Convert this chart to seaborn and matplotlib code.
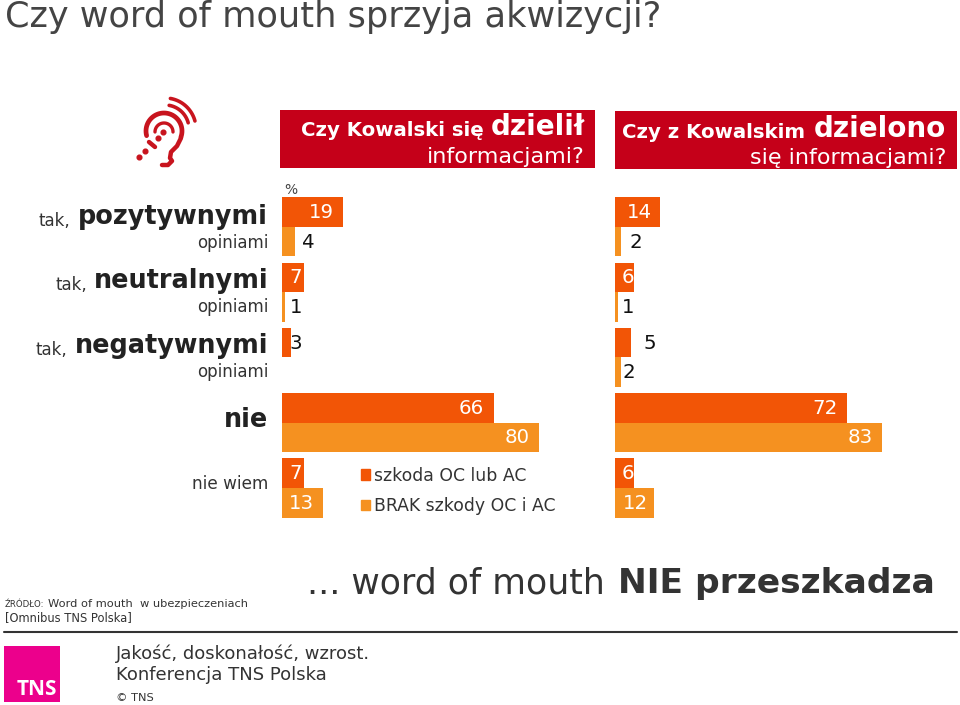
import numpy as np
import pandas as pd
import matplotlib
matplotlib.use("Agg")
import matplotlib.pyplot as plt
from matplotlib.patches import Rectangle, Patch
import seaborn as sns

categories = ["pozytywnymi", "neutralnymi", "negatywnymi", "nie", "nie wiem"]
series_names = ["szkoda OC lub AC", "BRAK szkody OC i AC"]
kowalski_szkoda = [19, 7, 3, 66, 7]
kowalski_brak = [4, 1, np.nan, 80, 13]
z_kowalskim_szkoda = [14, 6, 5, 72, 6]
z_kowalskim_brak = [2, 1, 2, 83, 12]

C_A, C_B = "#F25506", "#F59120"
W, H = 960, 705

sns.set_theme(style="white")
plt.rcParams["font.family"] = ["DejaVu Sans"]
fig = plt.figure(figsize=(W / 100, H / 100), dpi=100, facecolor="white")


def px_axes(x0, y0, x1, y1, **kw):
    return fig.add_axes([x0 / W, 1 - y1 / H, (x1 - x0) / W, (y1 - y0) / H], **kw)


def panel(a, b, x0, x1, scale, dx_a, dx_b, c_a, c_b):
    ax = px_axes(x0, 194.3, x1, 520.6)
    df = pd.DataFrame({
        "kat": categories * 2,
        "seria": [series_names[0]] * 5 + [series_names[1]] * 5,
        "v": list(a) + list(b),
    })
    sns.barplot(data=df, y="kat", x="v", hue="seria", order=categories,
                hue_order=series_names, palette=[C_A, C_B], width=0.905, gap=0,
                saturation=1, legend=False, ax=ax, errorbar=None, linewidth=0)
    ax.set_xlim(0, (x1 - x0) / scale)
    ax.set_ylim(4.5, -0.5)
    ax.axis("off")
    for cont, dxs, cols in zip(ax.containers, (dx_a, dx_b), (c_a, c_b)):
        for bar in cont:
            val = bar.get_width()
            if np.isnan(val) or val == 0:
                continue
            yc = bar.get_y() + bar.get_height() / 2
            i = int(round(yc))
            ax.annotate(f"{val:.0f}", xy=(val, yc),
                        xytext=(dxs[i] * 0.72, -0.3), textcoords="offset points",
                        ha="center", va="center", fontsize=14.2, color=cols[i])
    return ax


W_, K_ = "white", "#111111"
ax1 = panel(kowalski_szkoda, kowalski_brak, 281.7, 600, 3.21,
            [-21, -8, 4.5, -22, -8], [14, 11, 0, -21.5, -21.5],
            [W_, W_, K_, W_, W_], [K_, K_, K_, W_, W_])
ax2 = panel(z_kowalskim_szkoda, z_kowalskim_brak, 615, 957, 3.22,
            [-21, -6, 19, -22, -6], [14.6, 10, 7.6, -22, -18],
            [W_, W_, K_, W_, W_], [K_, K_, K_, W_, W_])

ax1.legend(handles=[Patch(color=C_A), Patch(color=C_B)], labels=series_names,
           loc="upper left", bbox_to_anchor=((360.7 - 281.7) / (600 - 281.7), (520.6 - 466.6) / 326.3),
           frameon=False, fontsize=12.4, handlelength=0.55, handleheight=0.55,
           handletextpad=0.22, labelspacing=0.72, borderpad=0, borderaxespad=0,
           labelcolor="#333333")

ov = fig.add_axes([0, 0, 1, 1], facecolor="none")
ov.set_xlim(0, W)
ov.set_ylim(H, 0)
ov.axis("off")


def t(x, y, s, size, color="#333333", ha="left", weight="normal", **kw):
    ov.text(x, y, s, fontsize=size, color=color, ha=ha, va="center", fontweight=weight, **kw)


t(5, 17, "Czy word of mouth sprzyja akwizycji?", 25.3, "#444444")

RED = "#C50019"
ov.add_patch(Rectangle((280, 110), 315, 58, color=RED, lw=0))
ov.add_patch(Rectangle((615, 111), 342, 58, color=RED, lw=0))
t(301, 131, "Czy Kowalski się", 14.2, "white", weight="bold")
t(585, 127, "dzielił", 20, "white", ha="right", weight="bold")
t(585, 157, "informacjami?", 16, "white", ha="right")
t(622, 132, "Czy z Kowalskim", 14.2, "white", weight="bold")
t(946, 129, "dzielono", 20, "white", ha="right", weight="bold")
t(946, 158, "się informacjami?", 16, "white", ha="right")

t(284, 190, "%", 10, "#444444")
for y, word, pre_x in [(217, categories[0], 70), (281, categories[1], 87), (346, categories[2], 67)]:
    t(268, y, word, 18.4, "#222222", ha="right", weight="bold")
    t(pre_x, y + 4, "tak,", 12, ha="right")
    t(268, y + 26, "opiniami", 12, ha="right")
t(268, 420, categories[3], 18.4, "#222222", ha="right", weight="bold")
t(268, 484, categories[4], 12.2, ha="right")

t(307, 584, "... word of mouth", 25, "#333333")
t(618, 584, "NIE przeszkadza", 24.8, "#333333", weight="bold")

t(5, 604.5, "ŹRÓDŁO:", 6.2)
t(48, 604, "Word of mouth  w ubezpieczeniach", 8.2)
t(5, 618, "[Omnibus TNS Polska]", 8.3)
ov.plot([4, 957], [632, 632], color="#333333", lw=1.5)

ov.add_patch(Rectangle((4, 646), 56, 56, color="#EC008C", lw=0))
ov.text(57, 700, "TNS", fontsize=15, color="white", ha="right", va="bottom",
        fontweight="bold", family="Open Sans")
t(116, 654, "Jakość, doskonałość, wzrost.", 13)
t(116, 675, "Konferencja TNS Polska", 13)
t(116, 698, "© TNS", 8.2)

# hearing icon
IC = "#C8141E"


def arc(cx, cy, r, a0, a1, lw=3):
    a = np.radians(np.linspace(a0, a1, 40))
    ov.plot(cx + r * np.cos(a), cy - r * np.sin(a), color=IC, lw=lw, solid_capstyle="round")


arc(164, 131, 18, -20, 195, 3.4)
arc(164, 132, 9, 0, 180, 2.4)
arc(165, 129, 24, 15, 80, 2.6)
arc(165, 129, 31, 15, 80, 2.6)
ov.plot([181, 177, 171, 170, 172, 168, 162], [138, 146, 152, 158, 161, 165, 165],
        color=IC, lw=3.2, solid_capstyle="round")
ov.plot([163, 158, 145, 139], [132, 138, 151, 157], ls="none", marker="o", ms=3.4, color=IC)
ov.plot([149, 155], [142, 147], color=IC, lw=3.2)

fig.savefig("out.png", dpi=100, facecolor="white")
